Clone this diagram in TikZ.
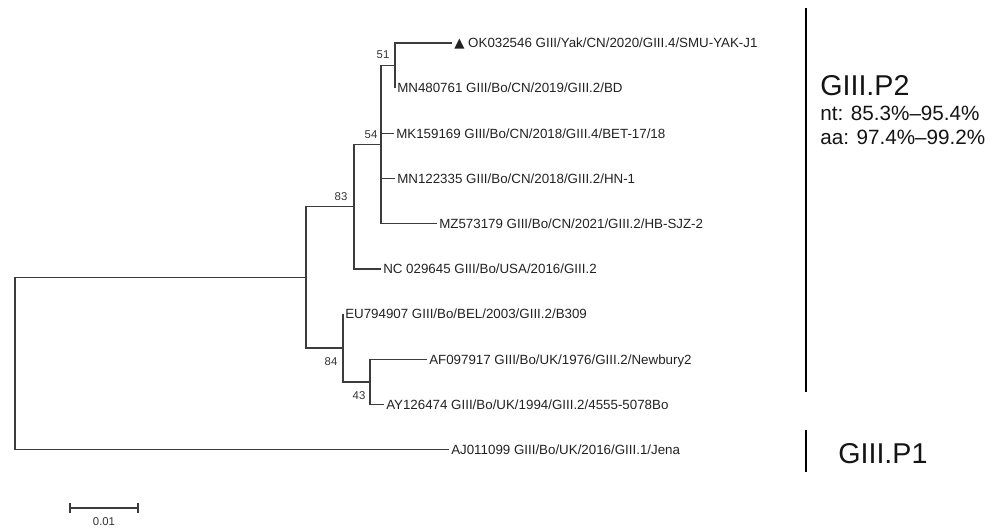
\documentclass[tikz,border=0pt]{standalone}
\usepackage{fontspec}
\setmainfont{Liberation Sans}
\newfontfamily\symfont{DejaVu Sans}
\usepackage{tikz}

\begin{document}
\begin{tikzpicture}[x=0.75pt,y=0.75pt,yscale=-1,xscale=1,
    branch/.style={draw={rgb, 255:red, 60; green, 60; blue, 60 }, line width=0.9pt},
    taxon/.style={anchor=west, inner sep=1.5pt, text height=7.2pt, text depth=0pt, font=\fontsize{10}{12}\selectfont, color={rgb, 255:red, 34; green, 34; blue, 34 }},
    boot/.style={inner sep=0.75pt, font=\fontsize{8.5}{10}\selectfont, color={rgb, 255:red, 51; green, 51; blue, 51 }},
    cladebar/.style={line width=1.5pt},
    cladename/.style={anchor=base west, inner sep=0pt, font=\fontsize{21.5}{24}\selectfont, color={rgb, 255:red, 20; green, 20; blue, 20 }},
    identity/.style={anchor=base west, inner sep=0pt, font=\fontsize{15.5}{18}\selectfont, color={rgb, 255:red, 20; green, 20; blue, 20 }}]
    \path[use as bounding box] (0,0) rectangle (1005,530);

    %Internal nodes
    \coordinate (root) at (15,364);
    \coordinate (n8384) at (306,277.5);
    \coordinate (n83) at (354,206.9);
    \coordinate (n54) at (381,144.7);
    \coordinate (n51) at (395,65.6);
    \coordinate (n84) at (343,348.1);
    \coordinate (n43) at (370,382);

    % Taxon Nodes
    \node[taxon] (tok) at (452,43) {{\symfont ▲} OK032546 GIII/Yak/CN/2020/GIII.4/SMU-YAK-J1};
    \node[taxon] (tmn48) at (395,88.2) {MN480761 GIII/Bo/CN/2019/GIII.2/BD};
    \node[taxon] (tmk) at (394,133.4) {MK159169 GIII/Bo/CN/2018/GIII.4/BET-17/18};
    \node[taxon] (tmn12) at (395,178.6) {MN122335 GIII/Bo/CN/2018/GIII.2/HN-1};
    \node[taxon] (tmz) at (437,223.8) {MZ573179 GIII/Bo/CN/2021/GIII.2/HB-SJZ-2};
    \node[taxon] (tnc) at (381,269) {NC 029645 GIII/Bo/USA/2016/GIII.2};
    \node[taxon] (teu) at (343,314.2) {EU794907 GIII/Bo/BEL/2003/GIII.2/B309};
    \node[taxon] (taf) at (427,359.4) {AF097917 GIII/Bo/UK/1976/GIII.2/Newbury2};
    \node[taxon] (tay) at (384,404.6) {AY126474 GIII/Bo/UK/1994/GIII.2/4555-5078Bo};
    \node[taxon] (taj) at (449,449.8) {AJ011099 GIII/Bo/UK/2016/GIII.1/Jena};

    %Straight Lines
    \draw[branch] (n8384) -| (root);
    \draw[branch] (taj.west) -| (root);
    \draw[branch] (n83) -| (n8384);
    \draw[branch] (n84) -| (n8384);
    \draw[branch] (n54) -| (n83);
    \draw[branch] (tnc.west) -| (n83);
    \draw[branch] (n51) -| (n54);
    \draw[branch] (tmk.west) -| (n54);
    \draw[branch] (tmn12.west) -| (n54);
    \draw[branch] (tmz.west) -| (n54);
    \draw[branch] (tok.west) -| (n51);
    \draw[branch] (tmn48.west) -| (n51);
    \draw[branch] (teu.west) -| (n84);
    \draw[branch] (n43) -| (n84);
    \draw[branch] (taf.west) -| (n43);
    \draw[branch] (tay.west) -| (n43);

    % Text Node
    \node[boot] (b51) at (383,55) {51};
    \node[boot] (b54) at (371,135) {54};
    \node[boot] (b83) at (341,197) {83};
    \node[boot] (b84) at (331,362) {84};
    \node[boot] (b43) at (359,396) {43};

    %Scale bar
    \coordinate (sbl) at (70,508);
    \coordinate (sbr) at (138,508);
    \draw[branch] (sbl) -- (sbr);
    \draw[branch] (70,503) -- (70,513);
    \draw[branch] (138,503) -- (138,513);
    \node[boot] (sblabel) at (104,522) {0.01};

    %Clade bars
    \draw[cladebar] (806,8) -- (806,392);
    \draw[cladebar] (806,430) -- (806,472);

    % Text Node
    \node[cladename] (p2) at (820,96) {GIII.P2};
    \node[identity] (p2nt) at (820,121) {nt: 85.3\%–95.4\%};
    \node[identity] (p2aa) at (820,145) {aa: 97.4\%–99.2\%};
    \node[cladename] (p1) at (838,463) {GIII.P1};

\end{tikzpicture}
\end{document}
